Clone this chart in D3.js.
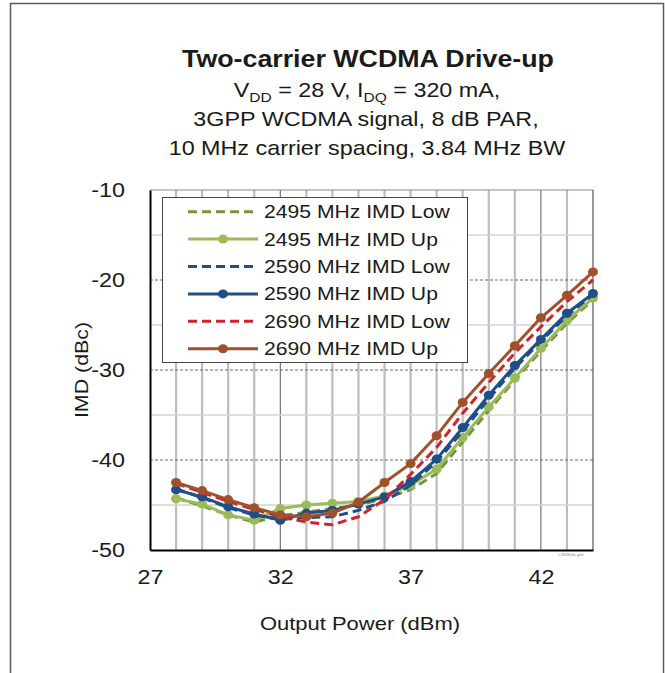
<!DOCTYPE html>
<html>
<head>
<meta charset="utf-8">
<script src="https://cdn.jsdelivr.net/npm/d3@7"></script>
<style>
  html, body { margin: 0; padding: 0; background: #fff; }
  svg { display: block; font-family: "Liberation Sans", Arial, Helvetica, sans-serif; }
</style>
</head>
<body>
<svg id="chart" width="665" height="673"></svg>
<script>
// ---------- data ----------
const power = [28, 29, 30, 31, 32, 33, 34, 35, 36, 37, 38, 39, 40, 41, 42, 43, 44];
const imd2495Low = [-44.2, -45.1, -46.1, -46.9, -46.2, -45.8, -45.4, -45.0, -44.3, -43.3, -41.5, -38.0, -34.5, -31.1, -27.9, -24.8, -22.2];
const imd2495Up  = [-44.3, -44.9, -46.1, -46.7, -45.4, -45.0, -44.8, -44.6, -44.0, -42.8, -41.0, -37.5, -34.1, -30.9, -27.6, -24.5, -22.0];
const imd2590Low = [-43.2, -44.2, -45.3, -46.1, -46.6, -46.4, -46.3, -45.6, -44.6, -42.8, -40.2, -36.8, -33.2, -29.8, -26.8, -24.0, -21.6];
const imd2590Up  = [-43.3, -44.1, -45.2, -46.0, -46.7, -45.9, -45.6, -44.9, -44.1, -42.4, -39.9, -36.4, -32.8, -29.5, -26.6, -23.7, -21.5];
const imd2690Low = [-42.6, -43.6, -44.6, -45.5, -46.3, -46.9, -47.2, -46.3, -44.4, -41.6, -38.6, -34.8, -31.4, -28.1, -25.2, -22.4, -20.0];
const imd2690Up  = [-42.5, -43.4, -44.4, -45.3, -46.1, -46.3, -45.9, -44.7, -42.5, -40.4, -37.3, -33.6, -30.4, -27.3, -24.2, -21.7, -19.1];

const seriesNames = ["2495 MHz IMD Low", "2495 MHz IMD Up", "2590 MHz IMD Low", "2590 MHz IMD Up", "2690 MHz IMD Low", "2690 MHz IMD Up"];
const seriesValues = [imd2495Low, imd2495Up, imd2590Low, imd2590Up, imd2690Low, imd2690Up];
const seriesColors = ["#77933c", "#9bbb59", "#1f4e89", "#1f4e89", "#d0242b", "#a0502a"];
const seriesDashed = [true, false, true, false, true, false];

const xTicks = [27, 32, 37, 42];
const yTicks = [-50, -40, -30, -20, -10];

const titleText = "Two-carrier WCDMA Drive-up";
const subLine2 = "3GPP WCDMA signal, 8 dB PAR,";
const subLine3 = "10 MHz carrier spacing, 3.84 MHz BW";
const xTitle = "Output Power (dBm)";
const yTitle = "IMD (dBc)";

// ---------- layout ----------
const SX = 1.15; // horizontal text stretch seen in the reference
const svg = d3.select("#chart");
const x = d3.scaleLinear().domain([27, 44]).range([150, 593]);
const y = d3.scaleLinear().domain([-50, -10]).range([550, 190]);

function stext(g, px, py, str, size, anchor, weight, sx) {
  return g.append("text")
    .attr("transform", `translate(${px},${py}) scale(${sx || SX},1)`)
    .attr("text-anchor", anchor || "middle")
    .style("font-size", size + "px")
    .style("font-weight", weight || "normal")
    .attr("fill", "#1a1a1a")
    .text(str);
}

// outer frame
svg.append("rect").attr("x", 10.5).attr("y", 3.5).attr("width", 653).attr("height", 720)
  .attr("fill", "none").attr("stroke", "#5a5a5a").attr("stroke-width", 1.5);

// titles
stext(svg, 368, 67, titleText, 23.3, "middle", "bold");
const l1 = svg.append("text")
  .attr("transform", `translate(367,97) scale(${SX},1)`)
  .attr("text-anchor", "middle").style("font-size", "20.3px").attr("fill", "#1a1a1a");
l1.append("tspan").text("V");
l1.append("tspan").text("DD").style("font-size", "13.5px").attr("dy", 5);
l1.append("tspan").text(" = 28 V, I").attr("dy", -5);
l1.append("tspan").text("DQ").style("font-size", "13.5px").attr("dy", 5);
l1.append("tspan").text(" = 320 mA,").attr("dy", -5);
stext(svg, 366, 126, subLine2, 20.3, "middle");
stext(svg, 367, 155, subLine3, 20.3, "middle");

// ---------- grid ----------
const grid = svg.append("g");
const minorX = d3.range(28, 44).filter(v => v !== 32 && v !== 42);
grid.selectAll(".vmin").data(minorX).enter().append("line")
  .attr("x1", d => x(d)).attr("x2", d => x(d)).attr("y1", y(-10)).attr("y2", y(-50))
  .attr("stroke", "#bdbdbd").attr("stroke-width", 2.2);
grid.selectAll(".vmaj").data([32, 42]).enter().append("line")
  .attr("x1", d => x(d)).attr("x2", d => x(d)).attr("y1", y(-10)).attr("y2", y(-50))
  .attr("stroke", "#5a5a5a").attr("stroke-width", 1);
grid.selectAll(".hmin").data([-45, -35, -25, -15]).enter().append("line")
  .attr("x1", x(27)).attr("x2", x(44)).attr("y1", d => y(d)).attr("y2", d => y(d))
  .attr("stroke", "#d4d4d4").attr("stroke-width", 1.5);
grid.selectAll(".hmaj").data([-40, -30, -20]).enter().append("line")
  .attr("x1", x(27)).attr("x2", x(44)).attr("y1", d => y(d)).attr("y2", d => y(d))
  .attr("stroke", "#6a6a6a").attr("stroke-width", 1).attr("stroke-dasharray", "3,2");
// top and right borders
grid.append("line").attr("x1", x(27)).attr("x2", x(44)).attr("y1", y(-10)).attr("y2", y(-10))
  .attr("stroke", "#8a8a8a").attr("stroke-width", 1.2);
grid.append("line").attr("x1", x(44)).attr("x2", x(44)).attr("y1", y(-10)).attr("y2", y(-50))
  .attr("stroke", "#555").attr("stroke-width", 1.2);

// ---------- series ----------
const line = d3.line().x(d => x(d[0])).y(d => y(d[1]));
const plot = svg.append("g");
seriesValues.forEach((vals, i) => {
  const pts = power.map((p, j) => [p, vals[j]]);
  plot.append("path").datum(pts).attr("d", line)
    .attr("fill", "none").attr("stroke", seriesColors[i]).attr("stroke-width", 3)
    .attr("stroke-dasharray", seriesDashed[i] ? "9,5" : null)
    .attr("stroke-linejoin", "round");
  if (!seriesDashed[i]) {
    plot.selectAll(null).data(pts).enter().append("ellipse")
      .attr("cx", d => x(d[0])).attr("cy", d => y(d[1]))
      .attr("rx", 5).attr("ry", 4.5).attr("fill", seriesColors[i]);
  }
});

// ---------- axes ----------
const fmt = d => String(d);
const xAxis = svg.append("g").attr("transform", `translate(0,${y(-50)})`)
  .call(d3.axisBottom(x).tickValues(xTicks).tickSize(0).tickFormat(fmt));
xAxis.select(".domain").attr("stroke", "#000").attr("stroke-width", 2);
xAxis.selectAll("text").attr("y", 0).attr("dy", null)
  .attr("transform", `translate(0,34) scale(${SX},1)`)
  .style("font-size", "20.3px").attr("fill", "#1a1a1a")
  .style("font-family", "'Liberation Sans', Arial, sans-serif");

const yAxis = svg.append("g").attr("transform", `translate(${x(27)},0)`)
  .call(d3.axisLeft(y).tickValues(yTicks).tickSize(0).tickFormat(fmt));
yAxis.select(".domain").attr("stroke", "#000").attr("stroke-width", 2);
yAxis.selectAll("text").attr("x", 0)
  .attr("transform", `translate(-25,0) scale(${SX},1)`)
  .style("font-size", "20.3px").attr("fill", "#1a1a1a")
  .style("font-family", "'Liberation Sans', Arial, sans-serif");

// axis titles
stext(svg, 360, 630, xTitle, 19.1, "middle");
svg.append("text")
  .attr("transform", `translate(88,370) rotate(-90) scale(1.12,1)`)
  .attr("text-anchor", "middle").style("font-size", "19.1px").attr("fill", "#1a1a1a")
  .text(yTitle);

// tiny watermark
svg.append("text").attr("x", 571).attr("y", 556).attr("text-anchor", "middle")
  .style("font-size", "4px").attr("fill", "#888").text("c28080dv-g0e");

// ---------- legend ----------
const lg = svg.append("g");
lg.append("rect").attr("x", 162.5).attr("y", 197.5).attr("width", 305).attr("height", 165)
  .attr("fill", "#fff").attr("stroke", "#444").attr("stroke-width", 1);
const rowY = d3.scalePoint().domain(seriesNames).range([211.7, 348.7]);
seriesNames.forEach((name, i) => {
  const ry = rowY(name);
  lg.append("line").attr("x1", 188).attr("x2", 258).attr("y1", ry).attr("y2", ry)
    .attr("stroke", seriesColors[i]).attr("stroke-width", 3)
    .attr("stroke-dasharray", seriesDashed[i] ? "9,5" : null);
  if (!seriesDashed[i]) {
    lg.append("ellipse").attr("cx", 223).attr("cy", ry).attr("rx", 5).attr("ry", 4.5)
      .attr("fill", seriesColors[i]);
  }
  stext(lg, 264, ry + 6.5, name, 18.4, "start");
});
</script>
</body>
</html>
